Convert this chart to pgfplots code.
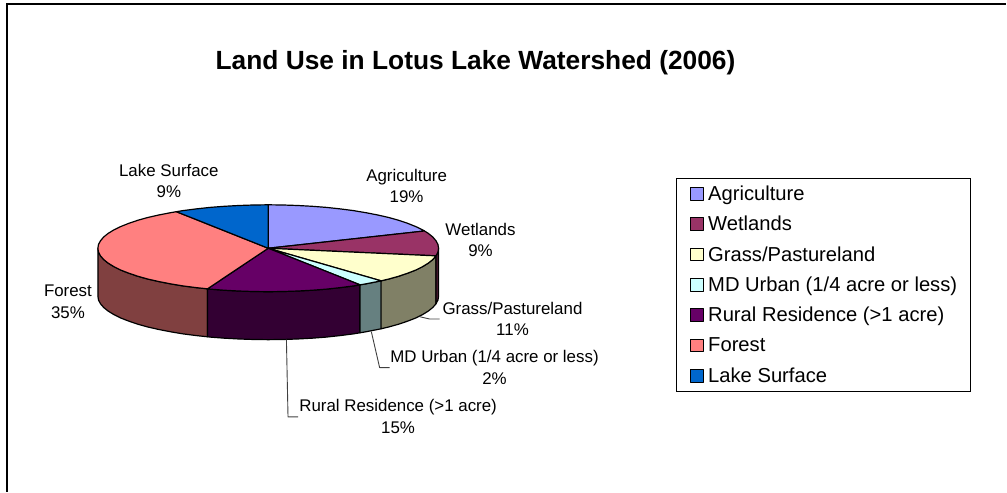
\documentclass[border=0pt]{standalone}
\usepackage{fontspec}
\setmainfont{Liberation Sans}
\usepackage{pgfplots}
\pgfplotsset{compat=1.18}
\definecolor{agri}{HTML}{9999FF}
\definecolor{wet}{HTML}{993366}
\definecolor{grass}{HTML}{FFFFCC}
\definecolor{urban}{HTML}{CCFFFF}
\definecolor{rural}{HTML}{660066}
\definecolor{forest}{HTML}{FF8080}
\definecolor{lake}{HTML}{0066CC}
\definecolor{wetside}{HTML}{4D1A33}
\definecolor{grassside}{HTML}{808066}
\definecolor{urbanside}{HTML}{668080}
\definecolor{ruralside}{HTML}{330033}
\definecolor{forestside}{HTML}{804040}
\tikzset{lab/.style={align=center, font=\fontsize{16.9}{21.5}\selectfont}}
\begin{document}
\begin{tikzpicture}
\begin{axis}[
    x=1pt, y=1pt,
    xmin=0, xmax=1007,
    ymin=0, ymax=492,
    y dir=reverse,
    hide axis,
    clip=false,
    every axis plot/.append style={line width=1.2pt, line join=round},
    legend image code/.code={\draw[#1, line width=1pt] (0pt,-6.5pt) rectangle (13pt,6.5pt); \path[draw=none, fill=none] (0pt,0pt) -- (18pt,0pt);},
    legend cell align=left,
    legend style={
        at={(axis cs:677,178)}, anchor=north west,
        draw=black, line width=0.8pt, fill=white,
        font=\fontsize{20.2}{24}\selectfont,
        row sep=11.35pt, inner xsep=13pt, inner ysep=5.8pt,
        nodes={inner xsep=0pt, inner ysep=1.5pt},
    },
]
% keeps the page at the full chart size
\path (axis cs:0,0) rectangle (axis cs:1007,492);
% chart frame, only left and top show
\draw[line width=2pt] (axis cs:7,492) -- (axis cs:7,4) -- (axis cs:1007,4);

% side walls
\addplot[forget plot, fill=forestside, draw=black] coordinates {
    (207.7,289.1) (196.4,287.9) (183.2,286.2) (170.7,284.1) (158.9,281.8) (147.9,279.3) (137.9,276.5)
    (128.8,273.4) (120.8,270.3) (114.0,266.9) (108.3,263.4) (103.8,259.8) (100.6,256.1) (98.6,252.3) (98.0,248.5)
    (98.0,296.5) (98.6,300.3) (100.6,304.1) (103.8,307.8) (108.3,311.4) (114.0,314.9) (120.8,318.3)
    (128.8,321.4) (137.9,324.5) (147.9,327.3) (158.9,329.8) (170.7,332.1) (183.2,334.2) (196.4,335.9) (207.7,337.1)
} --cycle;
\addplot[forget plot, fill=ruralside, draw=black] coordinates {
    (360.4,285.1) (353.8,286.2) (340.6,287.9) (326.8,289.4) (312.6,290.5) (298.1,291.3) (283.4,291.8) (268.5,292.0)
    (253.6,291.8) (238.9,291.3) (224.4,290.5) (210.2,289.4) (207.7,289.1)
    (207.7,337.1) (210.2,337.4) (224.4,338.5) (238.9,339.3) (253.6,339.8) (268.5,340.0) (283.4,339.8)
    (298.1,339.3) (312.6,338.5) (326.8,337.4) (340.6,335.9) (353.8,334.2) (360.4,333.1)
} --cycle;
\addplot[forget plot, fill=urbanside, draw=black] coordinates {
    (381.5,281.1) (378.1,281.8) (366.3,284.1) (360.4,285.1)
    (360.4,333.1) (366.3,332.1) (378.1,329.8) (381.5,329.1)
} --cycle;
\addplot[forget plot, fill=grassside, draw=black] coordinates {
    (436.4,256.1) (433.2,259.8) (428.7,263.4) (423.0,266.9) (416.2,270.3) (408.2,273.4) (399.1,276.5) (389.1,279.3) (381.5,281.1)
    (381.5,329.1) (389.1,327.3) (399.1,324.5) (408.2,321.4) (416.2,318.3) (423.0,314.9) (428.7,311.4) (433.2,307.8) (436.4,304.1)
} --cycle;
\addplot[forget plot, fill=wetside, draw=black] coordinates {
    (439.0,248.5) (438.4,252.3) (436.4,256.1)
    (436.4,304.1) (438.4,300.3) (439.0,296.5)
} --cycle;

% top of the pie
\addplot[fill=agri, draw=black] coordinates {
    (268.5,248.5) (268.5,205.0) (283.4,205.2) (298.1,205.7) (312.6,206.5) (326.8,207.6) (340.6,209.1) (353.8,210.8)
    (366.3,212.9) (378.1,215.2) (389.1,217.7) (399.1,220.5) (408.2,223.6) (416.2,226.8) (423.0,230.1) (424.9,231.2)
} --cycle;
\addlegendentry{Agriculture}
\addplot[fill=wet, draw=black] coordinates {
    (268.5,248.5) (424.9,231.2) (428.7,233.6) (433.2,237.2) (436.4,241.0) (438.4,244.7) (439.0,248.5) (438.4,252.3) (436.4,256.1)
} --cycle;
\addlegendentry{Wetlands}
\addplot[fill=grass, draw=black] coordinates {
    (268.5,248.5) (436.4,256.1) (433.2,259.8) (428.7,263.4) (423.0,266.9) (416.2,270.3) (408.2,273.4) (399.1,276.5) (389.1,279.3) (381.5,281.1)
} --cycle;
\addlegendentry{Grass/Pastureland}
\addplot[fill=urban, draw=black] coordinates {
    (268.5,248.5) (381.5,281.1) (378.1,281.8) (366.3,284.1) (360.4,285.1)
} --cycle;
\addlegendentry{MD Urban (1/4 acre or less)}
\addplot[fill=rural, draw=black] coordinates {
    (268.5,248.5) (360.4,285.1) (353.8,286.2) (340.6,287.9) (326.8,289.4) (312.6,290.5) (298.1,291.3) (283.4,291.8) (268.5,292.0)
    (253.6,291.8) (238.9,291.3) (224.4,290.5) (210.2,289.4) (207.7,289.1)
} --cycle;
\addlegendentry{Rural Residence (>1 acre)}
\addplot[fill=forest, draw=black] coordinates {
    (268.5,248.5) (207.7,289.1) (196.4,287.9) (183.2,286.2) (170.7,284.1) (158.9,281.8) (147.9,279.3) (137.9,276.5)
    (128.8,273.4) (120.8,270.3) (114.0,266.9) (108.3,263.4) (103.8,259.8) (100.6,256.1) (98.6,252.3) (98.0,248.5)
    (98.6,244.7) (100.6,241.0) (103.8,237.2) (108.3,233.6) (114.0,230.1) (120.8,226.8) (128.8,223.6) (137.9,220.5)
    (147.9,217.7) (158.9,215.2) (170.7,212.9) (176.6,211.9)
} --cycle;
\addlegendentry{Forest}
\addplot[fill=lake, draw=black] coordinates {
    (268.5,248.5) (176.6,211.9) (183.2,210.8) (196.4,209.1) (210.2,207.6) (224.4,206.5) (238.9,205.7) (253.6,205.2) (268.5,205.0)
} --cycle;
\addlegendentry{Lake Surface}

% leader lines
\addplot[forget plot, draw=black!75, line width=0.9pt] coordinates {(420,317) (430,319.3) (440,319.3)};
\addplot[forget plot, draw=black!75, line width=0.9pt] coordinates {(371.7,332) (380,368) (390,368)};
\addplot[forget plot, draw=black!75, line width=0.9pt] coordinates {(286.7,340) (288.3,417.3) (298.3,417.3)};

\node[lab] at (axis cs:407,186) {Agriculture\\19\%};
\node[lab] at (axis cs:169,181) {Lake Surface\\9\%};
\node[lab] at (axis cs:481,240) {Wetlands\\9\%};
\node[lab] at (axis cs:68,302) {Forest\\35\%};
\node[lab] at (axis cs:513,319) {Grass/Pastureland\\11\%};
\node[lab] at (axis cs:495,368) {MD Urban (1/4 acre or less)\\2\%};
\node[lab] at (axis cs:398.5,417) {Rural Residence (>1 acre)\\15\%};

\node[font=\fontsize{26.35}{30}\selectfont\bfseries] at (axis cs:476,63) {Land Use in Lotus Lake Watershed (2006)};
\end{axis}
\end{tikzpicture}
\end{document}
